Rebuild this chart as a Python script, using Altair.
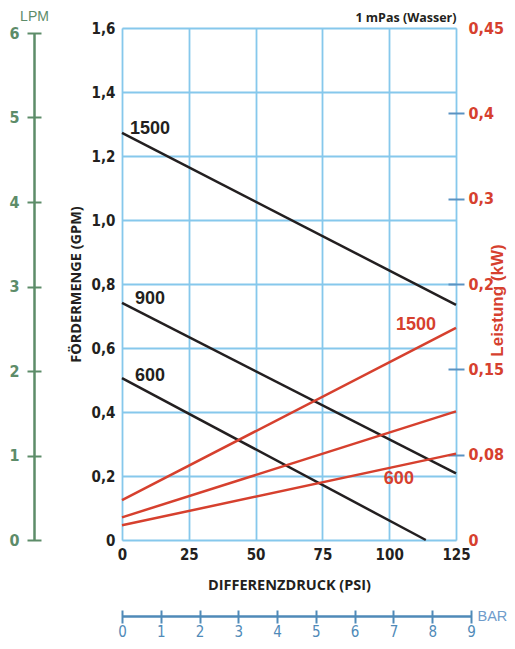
import altair as alt
import pandas as pd

# ---------------- data ----------------
psi_ticks = [0, 25, 50, 75, 100, 125]
gpm_ticks = [0, 0.2, 0.4, 0.6, 0.8, 1.0, 1.2, 1.4, 1.6]
kw_tick_values = [0, 0.075, 0.15, 0.225, 0.3, 0.375, 0.45]
kw_tick_labels = ["0", "0,08", "0,15", "0,2", "0,3", "0,4", "0,45"]
kw_inner_ticks = [0.075, 0.15, 0.225, 0.3, 0.375]
lpm_ticks = [0, 1, 2, 3, 4, 5, 6]
bar_ticks = [0, 1, 2, 3, 4, 5, 6, 7, 8, 9]

flow_series = ["1500", "1500", "900", "900", "600", "600"]
flow_psi = [0, 125, 0, 125, 0, 113.7]
flow_gpm = [1.272, 0.735, 0.741, 0.208, 0.506, 0.0]

power_series = ["1500", "1500", "900", "900", "600", "600"]
power_psi = [0, 125, 0, 125, 0, 125]
power_kw = [0.035, 0.1865, 0.0199, 0.113, 0.0129, 0.0759]

flow_label_text = ["1500", "900", "600"]
flow_label_psi = [3.0, 4.9, 4.9]
flow_label_gpm = [1.283, 0.754, 0.511]

power_label_text = ["1500", "600"]
power_label_psi = [102.5, 98.0]
power_label_kw = [0.189, 0.0534]

# ---------------- styles ----------------
NARROW = "'Liberation Sans Narrow', 'DejaVu Sans Condensed', 'Roboto', sans-serif"
SANS = "'Liberation Sans', 'Roboto', sans-serif"
GEO = "'Open Sans', 'Lato', sans-serif"
BLACK = "#231f20"
RED = "#d6402e"
GREEN = "#5d8c69"
BLUE = "#4f8ab8"
BLUE_LIGHT = "#6f9ccb"
GRID = "#86c8ec"
BG = "#d8edf8"
BORDER = "#5a93c2"

W, H = 334, 512
LABEL_SIZE = 15

flow_df = pd.DataFrame({"series": flow_series, "psi": flow_psi, "gpm": flow_gpm})
power_df = pd.DataFrame({"series": power_series, "psi": power_psi, "kw": power_kw})
flow_lab_df = pd.DataFrame({"t": flow_label_text, "psi": flow_label_psi, "gpm": flow_label_gpm})
power_lab_df = pd.DataFrame({"t": power_label_text, "psi": power_label_psi, "kw": power_label_kw})
lpm_df = pd.DataFrame({"lpm": lpm_ticks})
bar_df = pd.DataFrame({"bar": bar_ticks})

psi_scale = alt.Scale(domain=[0, 125], nice=False, zero=False)
gpm_scale = alt.Scale(domain=[0, 1.6], nice=False)
kw_scale = alt.Scale(domain=[0, 0.45], nice=False)
lpm_scale = alt.Scale(domain=[0, 6], range=[H, 5], nice=False)
bar_scale = alt.Scale(domain=[0, 9], range=[0, 349], nice=False)

kw_label_expr = "[" + ",".join("'" + s + "'" for s in kw_tick_labels) + "][round(datum.value / 0.075)]"

x_psi_axis = alt.Axis(
    orient="bottom", values=psi_ticks, grid=True, gridColor=GRID, gridWidth=1.8,
    ticks=False, domain=False, labelFont=NARROW, labelFontSize=LABEL_SIZE, labelFontWeight="bold",
    labelColor=BLACK, labelPadding=7, labelFlush=False, labelOverlap=False,
    title="DIFFERENZDRUCK (PSI)", titleFont=GEO, titleFontSize=14.5, titleFontWeight="bold",
    titleColor=BLACK, titleY=45, titleBaseline="middle",
)
y_gpm_axis = alt.Axis(
    orient="left", values=gpm_ticks, grid=True, gridColor=GRID, gridWidth=1.8,
    ticks=False, domain=False, labelFont=NARROW, labelFontSize=LABEL_SIZE, labelFontWeight="bold",
    labelColor=BLACK, labelPadding=7, labelOverlap=False,
    labelExpr="datum.value == 0 ? '0' : replace(format(datum.value, '.1f'), '.', ',')",
    title="FÖRDERMENGE (GPM)", titleFont=GEO, titleFontSize=14.5, titleFontWeight="bold",
    titleColor=BLACK, titleAngle=270, titleX=-46, titleY=256, titleAlign="center",
    titleBaseline="middle",
)

flow_lines = alt.Chart(flow_df).mark_line(color=BLACK, strokeWidth=2.5).encode(
    x=alt.X("psi:Q", scale=psi_scale, axis=x_psi_axis),
    y=alt.Y("gpm:Q", scale=gpm_scale, axis=y_gpm_axis),
    detail="series:N",
)

power_lines = alt.Chart(power_df).mark_line(color=RED, strokeWidth=2.5).encode(
    x=alt.X("psi:Q", scale=psi_scale, axis=None),
    y=alt.Y("kw:Q", scale=kw_scale, axis=alt.Axis(
        orient="right", values=kw_tick_values, labelExpr=kw_label_expr, ticks=False,
        domain=False, grid=False, labelFont=NARROW, labelFontSize=LABEL_SIZE + 1,
        labelFontWeight="bold", labelColor=RED, labelPadding=12, labelOverlap=False,
        title="Leistung (kW)", titleFont=SANS, titleFontSize=17, titleFontWeight="bold",
        titleColor=RED, titleAngle=270, titleX=41, titleY=272, titleAlign="center",
        titleBaseline="middle",
    )),
    detail="series:N",
)

flow_labels = alt.Chart(flow_lab_df).mark_text(
    align="left", baseline="middle", font=SANS, fontSize=18, fontWeight="bold", color=BLACK
).encode(
    x=alt.X("psi:Q", scale=psi_scale, axis=alt.Axis(
        orient="top", labels=False, ticks=False, domain=False, grid=False,
        title="1 mPas (Wasser)", titleFont=GEO, titleFontSize=12.5, titleFontWeight="bold",
        titleColor=BLACK, titleX=W, titleY=-11, titleAlign="right", titleBaseline="middle",
    )),
    y=alt.Y("gpm:Q", scale=gpm_scale, axis=None),
    text="t:N",
)

power_labels = alt.Chart(power_lab_df).mark_text(
    align="left", baseline="middle", font=SANS, fontSize=18, fontWeight="bold", color=RED
).encode(
    x=alt.X("psi:Q", scale=psi_scale, axis=None),
    y=alt.Y("kw:Q", scale=kw_scale, axis=alt.Axis(
        orient="right", values=kw_inner_ticks, offset=-8, tickSize=16, tickWidth=2,
        tickColor=BORDER, labels=False, domain=False, grid=False, title=None,
    )),
    text="t:N",
)

lpm_axis_layer = alt.Chart(lpm_df).mark_point(opacity=0).encode(
    y=alt.Y("lpm:Q", scale=lpm_scale, axis=alt.Axis(
        orient="left", offset=88, values=lpm_ticks, ticks=False, grid=False,
        domain=True, domainColor=GREEN, domainWidth=2.5, labelFont=NARROW,
        labelFontSize=LABEL_SIZE + 1, labelFontWeight="bold", labelColor=GREEN, labelPadding=15,
        labelOverlap=False, title="LPM", titleAngle=0, titleX=0, titleY=-12,
        titleAlign="center", titleBaseline="middle", titleFont=SANS,
        titleFontSize=14, titleFontWeight="normal", titleColor=GREEN,
    )),
)
lpm_tick_layer = alt.Chart(lpm_df).mark_point(opacity=0).encode(
    y=alt.Y("lpm:Q", scale=lpm_scale, axis=alt.Axis(
        orient="left", offset=81, values=lpm_ticks, tickSize=14, tickWidth=2,
        tickColor=GREEN, labels=False, domain=False, grid=False, title=None,
    )),
)

bar_axis_layer = alt.Chart(bar_df).mark_point(opacity=0).encode(
    x=alt.X("bar:Q", scale=bar_scale, axis=alt.Axis(
        orient="bottom", offset=76, values=bar_ticks, ticks=False, grid=False,
        domain=True, domainColor=BLUE, domainWidth=2.5, labelFont=NARROW,
        labelFontSize=LABEL_SIZE, labelColor=BLUE, labelPadding=8, labelFlush=False,
        labelOverlap=False, title="BAR", titleAngle=0, titleX=355, titleY=0,
        titleAlign="left", titleBaseline="middle", titleFont=SANS, titleFontSize=14.5,
        titleFontWeight="normal", titleColor=BLUE_LIGHT,
    )),
)
bar_tick_layer = alt.Chart(bar_df).mark_point(opacity=0).encode(
    x=alt.X("bar:Q", scale=bar_scale, axis=alt.Axis(
        orient="bottom", offset=70, values=bar_ticks, tickSize=13, tickWidth=2,
        tickColor=BLUE, labels=False, domain=False, grid=False, title=None,
    )),
)

chart = alt.layer(
    flow_lines, power_lines, flow_labels, power_labels,
    lpm_axis_layer, lpm_tick_layer, bar_axis_layer, bar_tick_layer,
).resolve_scale(
    x="independent", y="independent"
).properties(
    width=W, height=H,
    autosize=alt.AutoSizeParams(type="none"),
    padding={"left": 114, "top": 20, "right": 51, "bottom": 101},
).configure_view(
    fill=BG, stroke=BORDER, strokeWidth=2
).configure(background="white")

chart.save("out.html", embed_options={"renderer": "svg", "actions": False})
